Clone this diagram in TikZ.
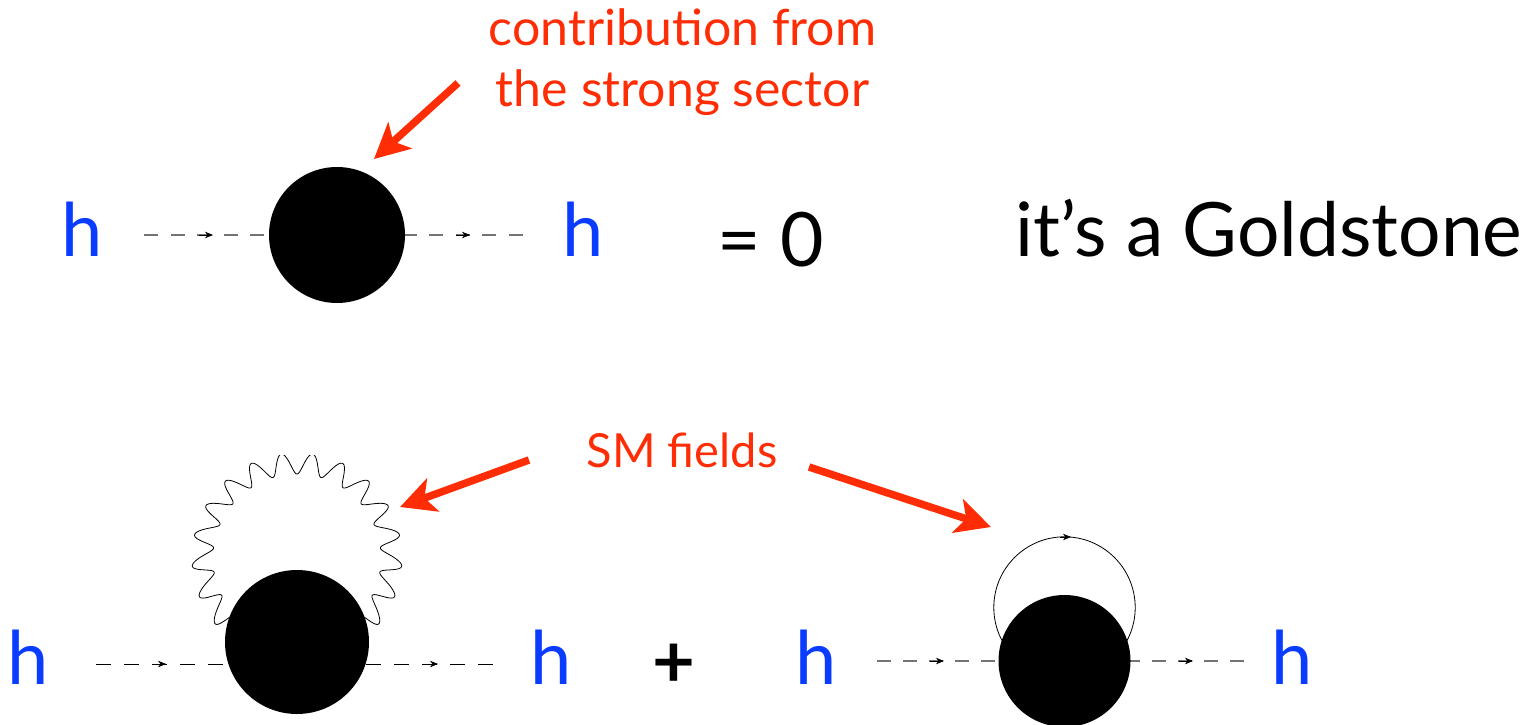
\documentclass[tikz,border=0pt]{standalone}
\usepackage{fontspec}
\setmainfont{Lato}
\usetikzlibrary{arrows.meta,backgrounds}
\definecolor{hblue}{RGB}{10,60,255}
\definecolor{redc}{RGB}{255,45,5}
\tikzset{
 blob/.style={circle,fill=black,inner sep=0pt,minimum size=#1},
 field/.style={text=hblue,font=\fontsize{74}{74}\selectfont,inner sep=0pt,anchor=base},
 redtext/.style={text=redc,font=\fontsize{50}{61}\selectfont,inner sep=0pt,align=center},
 redsm/.style={text=redc,font=\fontsize{47}{47}\selectfont,inner sep=0pt,anchor=base},
 blacktext/.style={text=black,font=\fontsize{75}{75}\selectfont,inner sep=0pt,anchor=base},
 dashline/.style={line width=1.2pt,draw=black!55,dash pattern=on 14pt off 12.6pt},
 dashdark/.style={line width=1pt,draw=black,dash pattern=on 15pt off 13pt},
 tiny/.style={-{Stealth[length=8pt,width=6.5pt]},draw=black,line width=.6pt},
 redarrow/.style={draw=redc,line width=7.5pt,-{Stealth[length=35pt,width=35pt,inset=9pt]}},
}
\begin{document}
\begin{tikzpicture}[x=1pt,y=-1pt]
\useasboundingbox (0,0) rectangle (1533,725);
% top row
\node[blob=136pt] (b1) at (337,235) {};
\coordinate (a1) at (144,235);\coordinate (a2) at (523,235);
\node[blob=144pt] (b2) at (297,642) {};
\coordinate (c1) at (96,664);\coordinate (c2) at (493,664);
\coordinate (c0) at (297,664);
\node[blob=132pt] (b3) at (1064.5,661) {};
\coordinate (d1) at (877,661);\coordinate (d2) at (1244,661);
\begin{scope}[on background layer]
\draw[dashline] (a1)--(b1.center);
\draw[dashline] (a2)--(b1.center);
\draw[dashdark] (c1)--(c0);
\draw[dashdark] (c2)--(c0);
\draw[dashline,dash pattern=on 14pt off 12pt] (d1)--(b3.center);
\draw[dashline,dash pattern=on 14pt off 12pt] (d2)--(b3.center);
\draw[line width=.8pt] (1064.5,607.5) circle[radius=70.7];
\begin{scope}
\clip (150,455.5) rectangle (450,640);
\draw[line width=.8pt,line join=round] plot[domain=-50:230,samples=900,variable=\t]
 ({297+(94.5-10.5*cos(21.3*(\t-90)))*cos(\t-1.5*cos(21.3*(\t-90))*(\t-90)/100)},
  {558-(94.5-10.5*cos(21.3*(\t-90)))*sin(\t-1.5*cos(21.3*(\t-90))*(\t-90)/100)});
\end{scope}
\end{scope}
\draw[tiny] (199,235)--(213,235);
\draw[tiny] (456,235)--(470,235);
\node[field] (h1) at (82,256) {h};
\node[field] (h2) at (583,256) {h};
\node[blacktext] (eq) at (771,266) {= 0};
\node[blacktext,anchor=base west] (gs) at (1015,256) {it’s a Goldstone};
\node[redtext] (t1) at (682.5,62) {contribution from\\the strong sector};
\coordinate (r1) at (458,83);
\coordinate (r1e) at (374,159);
\draw[redarrow] (r1)--(r1e);
% bottom left
\draw[tiny] (152,664)--(166,664);
\draw[tiny] (424,664)--(438,664);
\node[field] (h3) at (28,684) {h};
\node[field] (h4) at (551,684) {h};
\node[blacktext,font=\fontsize{74}{74}\selectfont\bfseries] (plus) at (674,687) {+};
% bottom right
\draw[tiny] (930,661)--(944,661);
\draw[tiny] (1179,661)--(1193,661);
\draw[tiny] (1060,537)--(1071,537);
\node[field] (h5) at (816,684) {h};
\node[field] (h6) at (1292,684) {h};
\node[redsm] (sm) at (682,467) {SM fields};
\coordinate (r2) at (529,460);
\coordinate (r2e) at (400,507);
\coordinate (r3) at (809,467);
\coordinate (r3e) at (991,527);
\draw[redarrow] (r2)--(r2e);
\draw[redarrow] (r3)--(r3e);
\end{tikzpicture}
\end{document}
